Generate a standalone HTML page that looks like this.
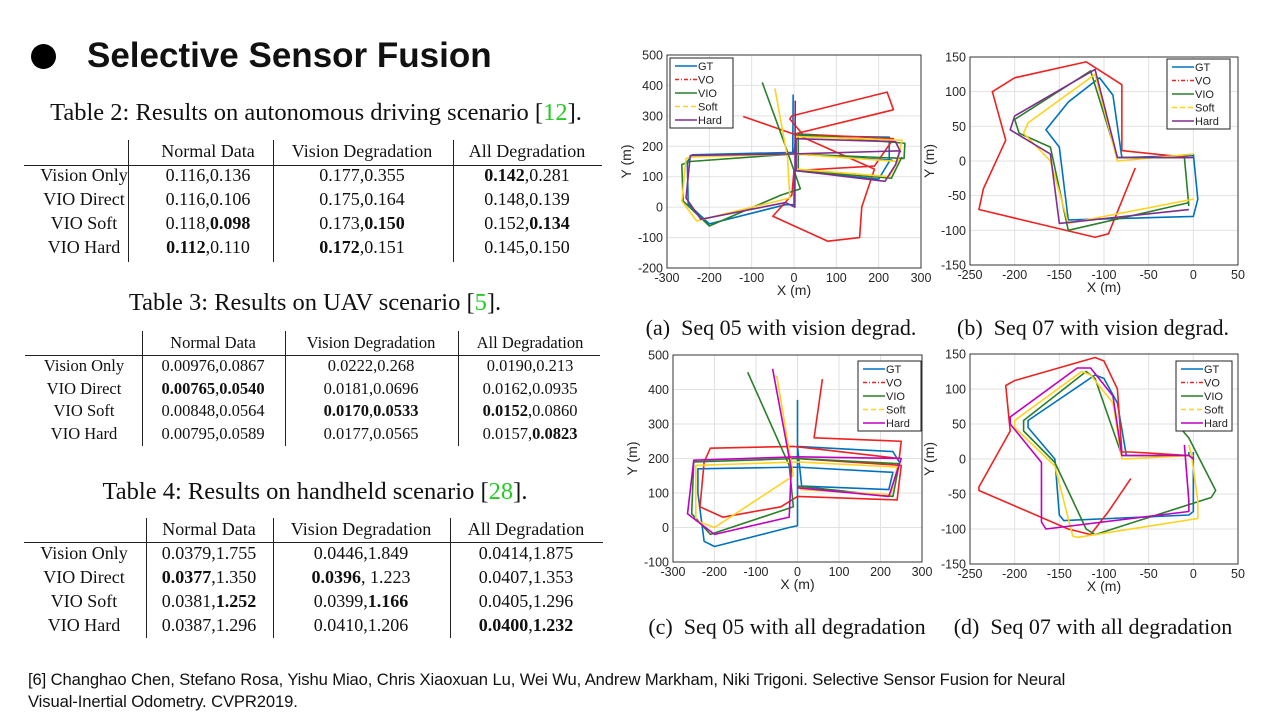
<!DOCTYPE html>
<html><head><meta charset="utf-8">
<style>
body{margin:0;width:1280px;height:720px;background:#fff;position:relative;overflow:hidden;font-family:"Liberation Serif",serif;color:#111}
.a{position:absolute;white-space:nowrap}
.c{transform:translateX(-50%)}
.vl{position:absolute;width:1px;background:#222}
.hl{position:absolute;height:1px;background:#222}
b{font-weight:bold}
</style></head><body>
<div class="a" style="left:31px;top:44px;width:25px;height:25px;border-radius:50%;background:#000"></div>
<div class="a" style="left:87px;top:36px;font:bold 35px 'Liberation Sans',sans-serif">Selective Sensor Fusion</div>

<div class="a c" style="left:316px;top:99px;font-size:24.5px">Table 2: Results on autonomous driving scenario [<span style="color:#2c2">12</span>].</div>
<div id="t2"></div>
<div id="t3"></div>
<div id="t4"></div>
<div class="a c" style="left:315px;top:289px;font-size:24.5px">Table 3: Results on UAV scenario [<span style="color:#2c2">5</span>].</div>
<div class="a c" style="left:315px;top:478px;font-size:24.5px">Table 4: Results on handheld scenario [<span style="color:#2c2">28</span>].</div>

<div class="a c" style="left:781px;top:315px;font-size:22px">(a)&nbsp; Seq 05 with vision degrad.</div>
<div class="a c" style="left:1093px;top:315px;font-size:22px">(b)&nbsp; Seq 07 with vision degrad.</div>
<div class="a c" style="left:787px;top:614px;font-size:22px">(c)&nbsp; Seq 05 with all degradation</div>
<div class="a c" style="left:1093px;top:614px;font-size:22px">(d)&nbsp; Seq 07 with all degradation</div>

<div class="a" style="left:28px;top:669px;font:16.6px 'Liberation Sans',sans-serif;line-height:22px;letter-spacing:-0.1px">[6] Changhao Chen, Stefano Rosa, Yishu Miao, Chris Xiaoxuan Lu, Wei Wu, Andrew Markham, Niki Trigoni. Selective Sensor Fusion for Neural<br>Visual-Inertial Odometry. CVPR2019.</div>

<svg id="plots" width="1280" height="720" style="position:absolute;left:0;top:0"></svg>

<script>
const t2Rows=[["Vision Only","0.116,0.136","0.177,0.355","<b>0.142</b>,0.281"],["VIO Direct","0.116,0.106","0.175,0.164","0.148,0.139"],["VIO Soft","0.118,<b>0.098</b>","0.173,<b>0.150</b>","0.152,<b>0.134</b>"],["VIO Hard","<b>0.112</b>,0.110","<b>0.172</b>,0.151","0.145,0.150"]];
const t3Rows=[["Vision Only","0.00976,0.0867","0.0222,0.268","0.0190,0.213"],["VIO Direct","<b>0.00765</b>,<b>0.0540</b>","0.0181,0.0696","0.0162,0.0935"],["VIO Soft","0.00848,0.0564","<b>0.0170</b>,<b>0.0533</b>","<b>0.0152</b>,0.0860"],["VIO Hard","0.00795,0.0589","0.0177,0.0565","0.0157,<b>0.0823</b>"]];
const t4Rows=[["Vision Only","0.0379,1.755","0.0446,1.849","0.0414,1.875"],["VIO Direct","<b>0.0377</b>,1.350","<b>0.0396</b>, 1.223","0.0407,1.353"],["VIO Soft","0.0381,<b>1.252</b>","0.0399,<b>1.166</b>","0.0405,1.296"],["VIO Hard","0.0387,1.296","0.0410,1.206","<b>0.0400</b>,<b>1.232</b>"]];
const hdr=["Normal Data","Vision Degradation","All Degradation"];
function table(id,rows,cfg){
  const root=document.getElementById(id);let h='';
  hdr.forEach((t,i)=>{h+=`<div class="a c" style="left:${cfg.cx[i+1]}px;top:${cfg.hy-cfg.fs*0.6}px;font-size:${cfg.fs}px">${t}</div>`;});
  rows.forEach((r,j)=>r.forEach((t,i)=>{h+=`<div class="a c" style="left:${cfg.cx[i]}px;top:${cfg.ry[j]-cfg.fs*0.6}px;font-size:${cfg.fs}px">${t}</div>`;}));
  h+=`<div class="hl" style="left:${cfg.l}px;width:${cfg.r-cfg.l}px;top:${cfg.line}px"></div>`;
  cfg.vx.forEach(x=>{h+=`<div class="vl" style="left:${x}px;top:${cfg.vt}px;height:${cfg.vb-cfg.vt}px"></div>`;});
  root.innerHTML=h;
}
table('t2',t2Rows,{cx:[84,208,362,527],hy:152,ry:[176,200,224,248],fs:18,line:165,l:24,r:602,vx:[128,273,453],vt:140,vb:262});
table('t3',t3Rows,{cx:[84,213,371,530],hy:343,ry:[366,389,411,434],fs:16.5,line:355,l:25,r:600,vx:[142,285,458],vt:331,vb:446});
table('t4',t4Rows,{cx:[84,209,361,526],hy:530,ry:[554,578,602,626],fs:18,line:542,l:24,r:603,vx:[146,273,450],vt:518,vb:638});

const seriesNames=["GT","VO","VIO","Soft","Hard"];
const aGT=[[-2,370],[-3,180],[-240,172],[-252,150],[-250,10],[-200,-55],[-20,8],[0,8],[0,120],[200,92],[225,150],[225,230],[5,235],[0,175],[230,155],[235,150]];
const aVO=[[-120,298],[20,230],[190,125],[160,0],[155,-100],[80,-112],[-50,-30],[-5,40],[0,120],[190,135],[235,225],[20,240],[-10,290],[-5,300],[220,378],[235,320],[0,240]];
const aVIO=[[-75,410],[-20,200],[15,60],[-30,40],[-200,-62],[-262,20],[-265,140],[-245,150],[0,175],[260,160],[262,210],[10,240],[10,120],[230,95],[255,165]];
const aSoft=[[-45,390],[-15,160],[-10,30],[-230,-45],[-265,20],[-255,160],[-240,165],[0,175],[245,150],[255,220],[5,232],[5,125],[225,100],[245,150]];
const aHard=[[3,350],[2,0],[-20,15],[-220,-40],[-255,30],[-245,170],[0,175],[250,185],[240,140],[215,85],[5,120],[5,225],[240,215],[252,180]];
const bGT=[[0,8],[-80,5],[-90,95],[-105,120],[-140,85],[-165,45],[-150,20],[-140,-85],[0,-80],[5,-55],[0,10]];
const bVO=[[-65,-10],[-95,-105],[-110,-110],[-240,-70],[-235,-40],[-210,30],[-225,100],[-200,120],[-120,143],[-80,110],[-80,15],[-5,5]];
const bVIO=[[-5,-65],[-10,5],[-85,5],[-115,130],[-200,60],[-195,40],[-160,20],[-140,-100],[-5,-60]];
const bSoft=[[0,10],[-85,0],[-110,125],[-185,55],[-190,40],[-160,0],[-140,-90],[0,-55]];
const bHard=[[0,5],[-85,5],[-110,132],[-200,65],[-205,45],[-160,10],[-150,-90],[-5,-70]];
const cGT=[[0,370],[0,5],[-20,0],[-200,-55],[-225,-40],[-240,100],[-240,170],[0,175],[230,160],[220,110],[10,120],[0,235],[230,220],[245,190]];
const cVO=[[60,430],[40,260],[250,250],[245,200],[30,230],[-10,235],[-210,230],[-225,190],[-235,60],[-180,30],[-40,60],[0,90],[240,80],[250,180],[-5,200]];
const cVIO=[[-120,450],[-20,180],[-10,60],[-210,-20],[-255,40],[-250,190],[0,200],[245,185],[230,90],[0,120]];
const cSoft=[[-50,440],[-10,150],[-200,0],[-245,20],[-245,180],[0,190],[240,175],[225,95],[5,110]];
const cHard=[[-60,460],[-15,170],[-20,30],[-200,-20],[-265,40],[-250,195],[0,205],[250,200],[220,90],[0,115]];
const dGT=[[0,10],[0,-75],[-5,-80],[-145,-88],[-150,-80],[-155,0],[-185,45],[-185,55],[-110,120],[-100,115],[-85,80],[-75,5],[-5,5],[-5,10]];
const dVO=[[-70,-28],[-95,-75],[-115,-108],[-140,-100],[-240,-45],[-240,-40],[-205,40],[-210,105],[-200,112],[-110,145],[-100,140],[-85,100],[-80,10],[-70,10],[-5,5]];
const dVIO=[[-15,45],[-5,30],[25,-45],[20,-55],[-110,-108],[-120,-100],[-155,-5],[-190,40],[-190,55],[-120,125],[-110,115],[-80,5],[-5,5]];
const dSoft=[[-5,20],[-2,5],[5,-60],[5,-85],[-130,-112],[-135,-110],[-155,-10],[-200,45],[-200,55],[-125,125],[-115,120],[-90,80],[-80,0],[0,5]];
const dHard=[[-10,20],[-5,-60],[-5,-75],[-165,-100],[-170,-90],[-170,-5],[-205,50],[-205,60],[-130,130],[-115,130],[-90,90],[-80,5],[-5,5],[0,0]];
const aXTicks=[-300,-200,-100,0,100,200,300], aYTicks=[-200,-100,0,100,200,300,400,500];
const bXTicks=[-250,-200,-150,-100,-50,0,50], bYTicks=[-150,-100,-50,0,50,100,150];
const cYTicks=[-100,0,100,200,300,400,500];

const svg=document.getElementById('plots');
const NS='http://www.w3.org/2000/svg';
function mk(tag,attrs,parent){const e=document.createElementNS(NS,tag);for(const k in attrs)e.setAttribute(k,attrs[k]);parent.appendChild(e);return e;}
function plot(name,box,xd,yd,xt,yt,series,colors,legend){
  const g=mk('g',{},svg);
  
  
  const sx=v=>box.L+(v-xd[0])/(xd[1]-xd[0])*(box.R-box.L);
  const sy=v=>box.B-(v-yd[0])/(yd[1]-yd[0])*(box.B-box.T);
  xt.forEach(v=>{
    const l=mk('line',{x1:sx(v),x2:sx(v),y1:box.T,y2:box.B,stroke:'#e2e2e2','stroke-width':1},g);
    
    const t=mk('text',{x:sx(v),y:box.B+14,'text-anchor':'middle','font-size':12.5,'font-family':'Liberation Sans,sans-serif',fill:'#262626'},g);
    t.textContent=v;
  });
  yt.forEach(v=>{
    const l=mk('line',{x1:box.L,x2:box.R,y1:sy(v),y2:sy(v),stroke:'#e2e2e2','stroke-width':1},g);
    
    const t=mk('text',{x:box.L-4,y:sy(v)+4.5,'text-anchor':'end','font-size':12.5,'font-family':'Liberation Sans,sans-serif',fill:'#262626'},g);
    t.textContent=v;
  });
  series.forEach((s,i)=>{
    const p=mk('polyline',{points:s.map(d=>sx(d[0])+','+sy(d[1])).join(' '),fill:'none',stroke:colors[i],'stroke-width':1.6,'stroke-linejoin':'round'},g);
    
  });
  const fr=mk('rect',{x:box.L,y:box.T,width:box.R-box.L,height:box.B-box.T,fill:'none',stroke:'#333','stroke-width':1},g);
  
  const xl=mk('text',{x:(box.L+box.R)/2,y:box.B+27,'text-anchor':'middle','font-size':14,'font-family':'Liberation Sans,sans-serif',fill:'#262626'},g);
  xl.textContent='X (m)';
  const cy=(box.T+box.B)/2;
  const yl=mk('text',{x:box.L-36,y:cy,'text-anchor':'middle','font-size':14,'font-family':'Liberation Sans,sans-serif',fill:'#262626',transform:`rotate(-90 ${box.L-36} ${cy})`},g);
  yl.textContent='Y (m)';
  const lg=mk('g',{},g);
  
  mk('rect',{x:legend.x,y:legend.y,width:legend.w,height:70,fill:'#fff',stroke:'#222','stroke-width':1},lg);
  const dash=['', '4 2 1 2', '', '5 3', ''];
  seriesNames.forEach((n,i)=>{
    const yy=legend.y+8+i*13.5;
    const e=mk('g',{},lg);
    
    mk('line',{x1:legend.x+5,x2:legend.x+27,y1:yy,y2:yy,stroke:colors[i],'stroke-width':1.5,'stroke-dasharray':dash[i]},e);
    const t=mk('text',{x:legend.x+28,y:yy+4,'font-size':11,'font-family':'Liberation Sans,sans-serif',fill:'#222'},e);
    t.textContent=n;
  });
}
const colA=['#0072BD','#ee2222','#2a7f2a','#ffd21e','#7e2f8e'];
const colC=['#0072BD','#ee2222','#2a7f2a','#ffd21e','#c000c0'];
plot('plot-a',{L:667,R:921,T:55,B:268},[-300,300],[-200,500],aXTicks,aYTicks,[aGT,aVO,aVIO,aSoft,aHard],colA,{x:670,y:58,w:63});
plot('plot-b',{L:970,R:1238,T:57,B:265},[-250,50],[-150,150],bXTicks,bYTicks,[bGT,bVO,bVIO,bSoft,bHard],colA,{x:1167,y:59,w:63});
plot('plot-c',{L:673,R:922,T:355,B:562},[-300,300],[-100,500],aXTicks,cYTicks,[cGT,cVO,cVIO,cSoft,cHard],colC,{x:858,y:361,w:63});
plot('plot-d',{L:970,R:1238,T:354,B:564},[-250,50],[-150,150],bXTicks,bYTicks,[dGT,dVO,dVIO,dSoft,dHard],colC,{x:1176,y:361,w:56});
</script>
</body></html>
